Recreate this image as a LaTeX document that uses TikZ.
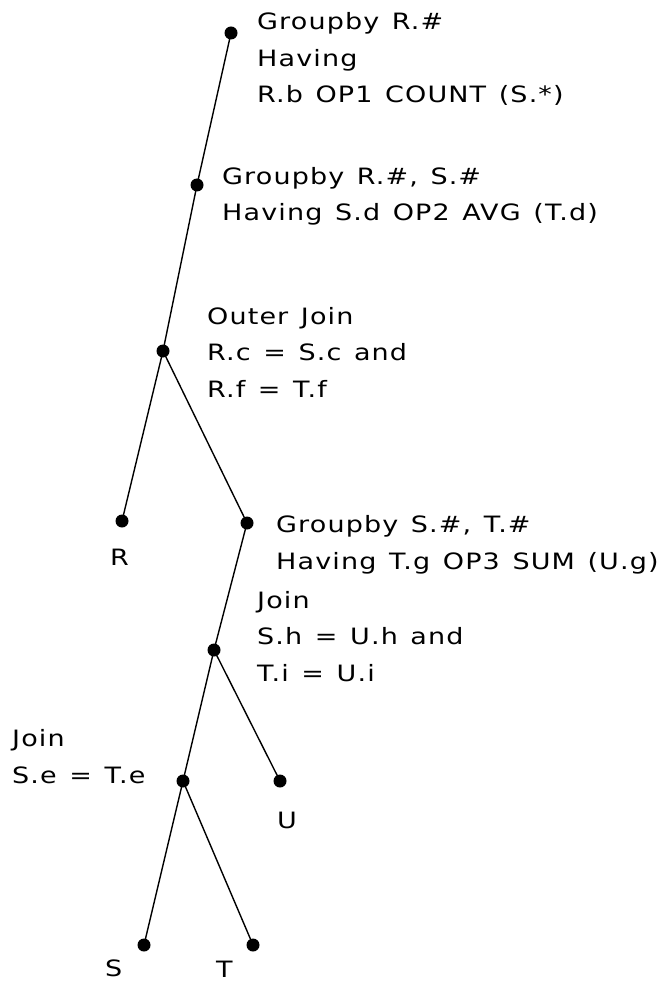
\documentclass[tikz,border=0pt]{standalone}
\usepackage{fontspec}
\setmainfont{DejaVu Sans}[FakeStretch=1.2,LetterSpace=5,WordSpace=1.3]
\begin{document}
\begin{tikzpicture}[x=1pt,y=-1pt,
  dot/.style={circle,fill=black,inner sep=0pt,minimum size=13pt},
  lbl/.style={anchor=base west,inner sep=0pt,align=left,font=\fontsize{22.5}{36.5}\selectfont},
  edge/.style={line width=1.4pt}]
\useasboundingbox (0,0) rectangle (670,981);
\node[dot] (n1) at (231,33) {};
\node[dot] (n2) at (197,185) {};
\node[dot] (oj) at (163,351) {};
\node[dot] (r) at (122,521) {};
\node[dot] (g3) at (247,523) {};
\node[dot] (j1) at (214,650) {};
\node[dot] (u) at (280,781) {};
\node[dot] (j2) at (183,781) {};
\node[dot] (s) at (144,945) {};
\node[dot] (t) at (253,945) {};
\draw[edge] (n1.center) -- (n2.center) -- (oj.center) -- (r.center);
\draw[edge] (oj.center) -- (g3.center) -- (j1.center) -- (j2.center) -- (s.center);
\draw[edge] (j1.center) -- (u.center);
\draw[edge] (j2.center) -- (t.center);
\node[lbl] (l1) at (257,103) {Groupby R.\#\\Having\\R.b OP1 COUNT (S.*)};
\node[lbl] (l2) at (222,221) {Groupby R.\#, S.\#\\Having S.d OP2 AVG (T.d)};
\node[lbl] (l3) at (207,397) {Outer Join\\R.c = S.c and\\R.f = T.f};
\node[lbl] (lr) at (110,565) {R};
\node[lbl] (l4) at (276,569) {Groupby S.\#, T.\#\\Having T.g OP3 SUM (U.g)};
\node[lbl] (l5) at (257,681) {Join\\S.h = U.h and\\T.i = U.i};
\node[lbl] (l6) at (12,783) {Join\\S.e = T.e};
\node[lbl] (lu) at (277,828) {U};
\node[lbl] (ls) at (105,976) {S};
\node[lbl] (lt) at (216,977) {T};
\end{tikzpicture}
\end{document}
